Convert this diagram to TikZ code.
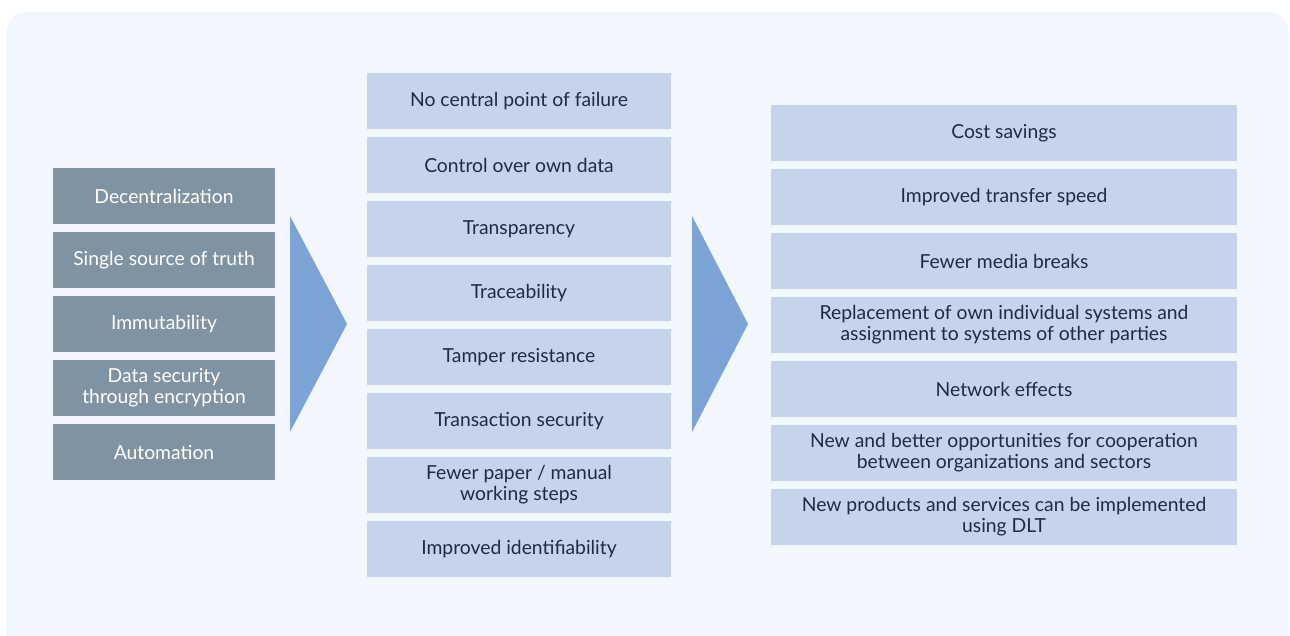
\documentclass[tikz,border=0pt]{standalone}
\usepackage{fontspec}
\setmainfont{Lato}
\usetikzlibrary{positioning}

\definecolor{panelbg}{HTML}{F2F6FD}
\definecolor{propfill}{HTML}{7F93A3}
\definecolor{benefill}{HTML}{C5D3EB}
\definecolor{arrowfill}{HTML}{7BA3D6}
\definecolor{textnavy}{HTML}{1E2B45}

\tikzset{
  prop/.style={fill=propfill,text=white,minimum width=4.44cm,minimum height=1.12cm,
    inner sep=0pt,align=center,font=\fontsize{11}{12}\selectfont},
  feat/.style={fill=benefill,text=textnavy,minimum width=6.08cm,minimum height=1.12cm,
    inner sep=0pt,align=center,font=\fontsize{11}{12}\selectfont},
  gain/.style={fill=benefill,text=textnavy,minimum width=9.32cm,minimum height=1.12cm,
    inner sep=0pt,align=center,font=\fontsize{11}{12}\selectfont},
  flow/.style={fill=arrowfill}
}

\begin{document}
\begin{tikzpicture}[x=0.02cm,y=-0.02cm]
    \useasboundingbox (0,0) rectangle (1290,635);
    \fill[panelbg,rounded corners=12] (6,660) |- (1289,12) -- (1289,660) -- cycle;

    % properties
    \node[prop] (dec) at (164,196) {Decentralization};
    \node[prop] (ssot) at (164,260) {Single source of truth};
    \node[prop] (imm) at (164,324) {Immutability};
    \node[prop] (sec) at (164,388) {Data security\\through encryption};
    \node[prop] (auto) at (164,452) {Automation};

    % features
    \node[feat] (nofail) at (519,101) {No central point of failure};
    \node[feat] (ctrl) at (519,165) {Control over own data};
    \node[feat] (transp) at (519,229) {Transparency};
    \node[feat] (trace) at (519,293) {Traceability};
    \node[feat] (tamper) at (519,357) {Tamper resistance};
    \node[feat] (tsec) at (519,421) {Transaction security};
    \node[feat] (paper) at (519,485) {Fewer paper / manual\\working steps};
    \node[feat] (ident) at (519,549) {Improved identifiability};

    % benefits
    \node[gain] (cost) at (1004,133) {Cost savings};
    \node[gain] (speed) at (1004,197) {Improved transfer speed};
    \node[gain] (media) at (1004,261) {Fewer media breaks};
    \node[gain] (repl) at (1004,325) {Replacement of own individual systems and\\assignment to systems of other parties};
    \node[gain] (net) at (1004,389) {Network effects};
    \node[gain] (coop) at (1004,453) {New and better opportunities for cooperation\\between organizations and sectors};
    \node[gain] (prod) at (1004,517) {New products and services can be implemented\\using DLT};

    \fill[flow] (290,216) -- (347,324) -- (290,432) -- cycle;
    \fill[flow] (692,216) -- (748,324) -- (692,432) -- cycle;
  \end{tikzpicture}
\end{document}
